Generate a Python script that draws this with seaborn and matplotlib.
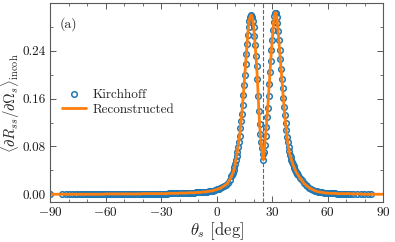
import matplotlib
matplotlib.use("Agg")
import matplotlib.pyplot as plt
import seaborn as sns
import pandas as pd
from matplotlib.ticker import MultipleLocator, FormatStrFormatter

# scattering angle [deg] of the Kirchhoff samples
theta_tail_left = [-90, -83.6, -81.4, -79.7, -77.9, -76.5, -75.3,
                   -74, -73, -72, -71, -70, -69, -68, -67, -66, -65, -64, -63, -62, -61,
                   -60, -59, -58, -57, -56, -55, -54, -53, -52, -51,
                   -50, -49, -48, -47, -46, -45, -44, -43, -42, -41,
                   -40, -39, -38, -37, -36, -35, -34, -33, -32, -31,
                   -30, -29, -28, -27, -26, -25, -24, -23, -22, -21,
                   -20, -19, -18, -17, -16, -15, -14, -13, -12, -11,
                   -10, -9, -8, -7, -6, -5, -4, -3, -2, -1,
                   0, 1, 2, 3, 4, 5, 6, 7]
r_tail_left = [0.0, 0.0, 0.0, 0.0, 0.0, 0.0, 0.0,
               0.0, 0.0, 0.0, 0.0, 0.0, 0.0, 0.0, 0.0, 0.0, 0.0, 0.0, 0.0, 0.0, 0.0,
               0.0005, 0.0005, 0.0005, 0.0005, 0.0005, 0.0005, 0.0005, 0.0005, 0.0005, 0.0005,
               0.0005, 0.0005, 0.0005, 0.0005, 0.0005, 0.0005, 0.0005, 0.0005, 0.0005, 0.0005,
               0.001, 0.001, 0.001, 0.001, 0.001, 0.001, 0.001, 0.001, 0.001, 0.001,
               0.001, 0.001, 0.001, 0.001, 0.0015, 0.0015, 0.0015, 0.0015, 0.0015, 0.0015,
               0.002, 0.002, 0.002, 0.002, 0.002, 0.0025, 0.0025, 0.0025, 0.0025, 0.003,
               0.003, 0.003, 0.0035, 0.004, 0.004, 0.0045, 0.005, 0.0055, 0.006, 0.007,
               0.008, 0.009, 0.010, 0.012, 0.014, 0.016, 0.019, 0.024]

theta_peaks = [8.0, 8.4, 8.8, 9.2, 9.6, 10.0, 10.4, 10.8, 11.2, 11.6,
               12.0, 12.4, 12.8, 13.2, 13.6, 14.0, 14.4, 14.8, 15.2, 15.6,
               16.0, 16.4, 16.8, 17.2, 17.6, 18.0, 18.4, 18.8, 19.2, 19.6,
               20.0, 20.4, 20.8, 21.2, 21.6, 22.0, 22.4, 22.8, 23.2, 23.6,
               24.0, 24.4, 24.8, 25.2, 25.6, 26.0, 26.4, 26.8, 27.2, 27.6,
               28.0, 28.4, 28.8, 29.2, 29.6, 30.0, 30.4, 30.8, 31.2, 31.6,
               32.0, 32.4, 32.8, 33.2, 33.6, 34.0, 34.4, 34.8, 35.2, 35.6,
               36.0, 36.4, 36.8, 37.2, 37.6, 38.0, 38.4, 38.8, 39.2, 39.6,
               40.0, 40.4, 40.8, 41.2, 41.6, 42.0, 42.4, 42.8, 43.2, 43.6, 44.0]
r_peaks = [0.030, 0.033, 0.036, 0.040, 0.045, 0.050, 0.057, 0.064, 0.071, 0.079,
           0.088, 0.098, 0.110, 0.122, 0.135, 0.149, 0.166, 0.183, 0.200, 0.218,
           0.235, 0.252, 0.267, 0.280, 0.290, 0.296, 0.299, 0.300, 0.297, 0.290,
           0.280, 0.265, 0.249, 0.232, 0.214, 0.192, 0.165, 0.140, 0.117, 0.100,
           0.088, 0.077, 0.067, 0.058, 0.070, 0.083, 0.097, 0.113, 0.129, 0.145,
           0.164, 0.184, 0.205, 0.223, 0.241, 0.258, 0.274, 0.288, 0.298, 0.304,
           0.303, 0.297, 0.286, 0.273, 0.258, 0.242, 0.226, 0.209, 0.193, 0.177,
           0.161, 0.146, 0.132, 0.119, 0.107, 0.096, 0.087, 0.079, 0.072, 0.066,
           0.062, 0.058, 0.054, 0.050, 0.047, 0.044, 0.041, 0.038, 0.036, 0.034, 0.032]

theta_tail_right = [45, 46, 47, 48, 49, 50, 51, 52, 53, 54,
                    55, 56, 57, 58, 59, 60, 61, 62, 63, 64,
                    65, 66, 67, 68, 69, 70, 71, 72,
                    73.6, 75.8, 77.8, 79.5, 81.7, 83.5]
r_tail_right = [0.027, 0.023, 0.019, 0.016, 0.013, 0.011, 0.009, 0.0075, 0.006, 0.005,
                0.004, 0.0035, 0.003, 0.0025, 0.002, 0.002, 0.0015, 0.0015, 0.0015, 0.0015,
                0.001, 0.001, 0.001, 0.001, 0.001, 0.001, 0.001, 0.001,
                0.0005, 0.0005, 0.0005, 0.0, 0.0, 0.0]

theta_kirch = theta_tail_left + theta_peaks + theta_tail_right
r_kirch = r_tail_left + r_peaks + r_tail_right
# reconstructed curve runs to the end of the axis
theta_recon = theta_kirch + [90.0]
r_recon = r_kirch + [0.0]

theta_inc = 25.0

sns.set_style("ticks")
plt.rcParams.update({
    "font.family": "serif",
    "font.serif": ["cmr10"],
    "mathtext.fontset": "cm",
    "axes.formatter.use_mathtext": True,
    "axes.edgecolor": "0.35",
    "axes.linewidth": 0.8,
    "xtick.color": "0.35",
    "ytick.color": "0.35",
    "xtick.labelcolor": "0.1",
    "ytick.labelcolor": "0.1",
})

df_k = pd.DataFrame({"theta": theta_kirch, "r": r_kirch})
df_r = pd.DataFrame({"theta": theta_recon, "r": r_recon})

fig = plt.figure(figsize=(3.95, 2.42), dpi=100)
ax = fig.add_axes([0.1266, 0.1665, 0.8438, 0.82])

ax.axvline(theta_inc, color="0.4", ls="--", lw=0.8, zorder=0)
sns.lineplot(data=df_k, x="theta", y="r", ax=ax, estimator=None, sort=False,
             linestyle="none", marker="o", markersize=4.0, color="#1f77b4",
             markerfacecolor="none", markeredgecolor="#1f77b4", markeredgewidth=1.1,
             label="Kirchhoff")
sns.lineplot(data=df_r, x="theta", y="r", ax=ax, estimator=None, sort=False,
             color="#ff7f0e", lw=2.0, label="Reconstructed")

ax.set_xlim(-90, 90)
ax.set_ylim(-0.0125, 0.3195)
ax.xaxis.set_major_locator(MultipleLocator(30))
ax.xaxis.set_minor_locator(MultipleLocator(10))
ax.yaxis.set_major_locator(MultipleLocator(0.08))
ax.yaxis.set_minor_locator(MultipleLocator(0.04))
ax.yaxis.set_major_formatter(FormatStrFormatter("%.2f"))
ax.tick_params(which="both", direction="in", top=True, right=True, labelsize=9.5)
ax.tick_params(which="major", length=4.5, width=0.7, pad=3)
ax.tick_params(which="minor", length=2.2, width=0.6)

ax.set_xlabel(r"$\theta_s$ [deg]", fontsize=12, labelpad=1)
ax.set_ylabel(r"$\langle \partial R_{ss}/\partial \Omega_s \rangle_{\mathrm{incoh}}$",
              fontsize=10.5)
ax.yaxis.set_label_coords(-0.084, 0.495)
ax.text(0.03, 0.93, "(a)", transform=ax.transAxes, fontsize=10, va="top", ha="left")

ax.legend(loc="center left", bbox_to_anchor=(0.0, 0.5), frameon=False, fontsize=9.5,
          handlelength=1.8, handletextpad=0.5, labelspacing=0.2, numpoints=1)

fig.savefig("out.png", dpi=100)
